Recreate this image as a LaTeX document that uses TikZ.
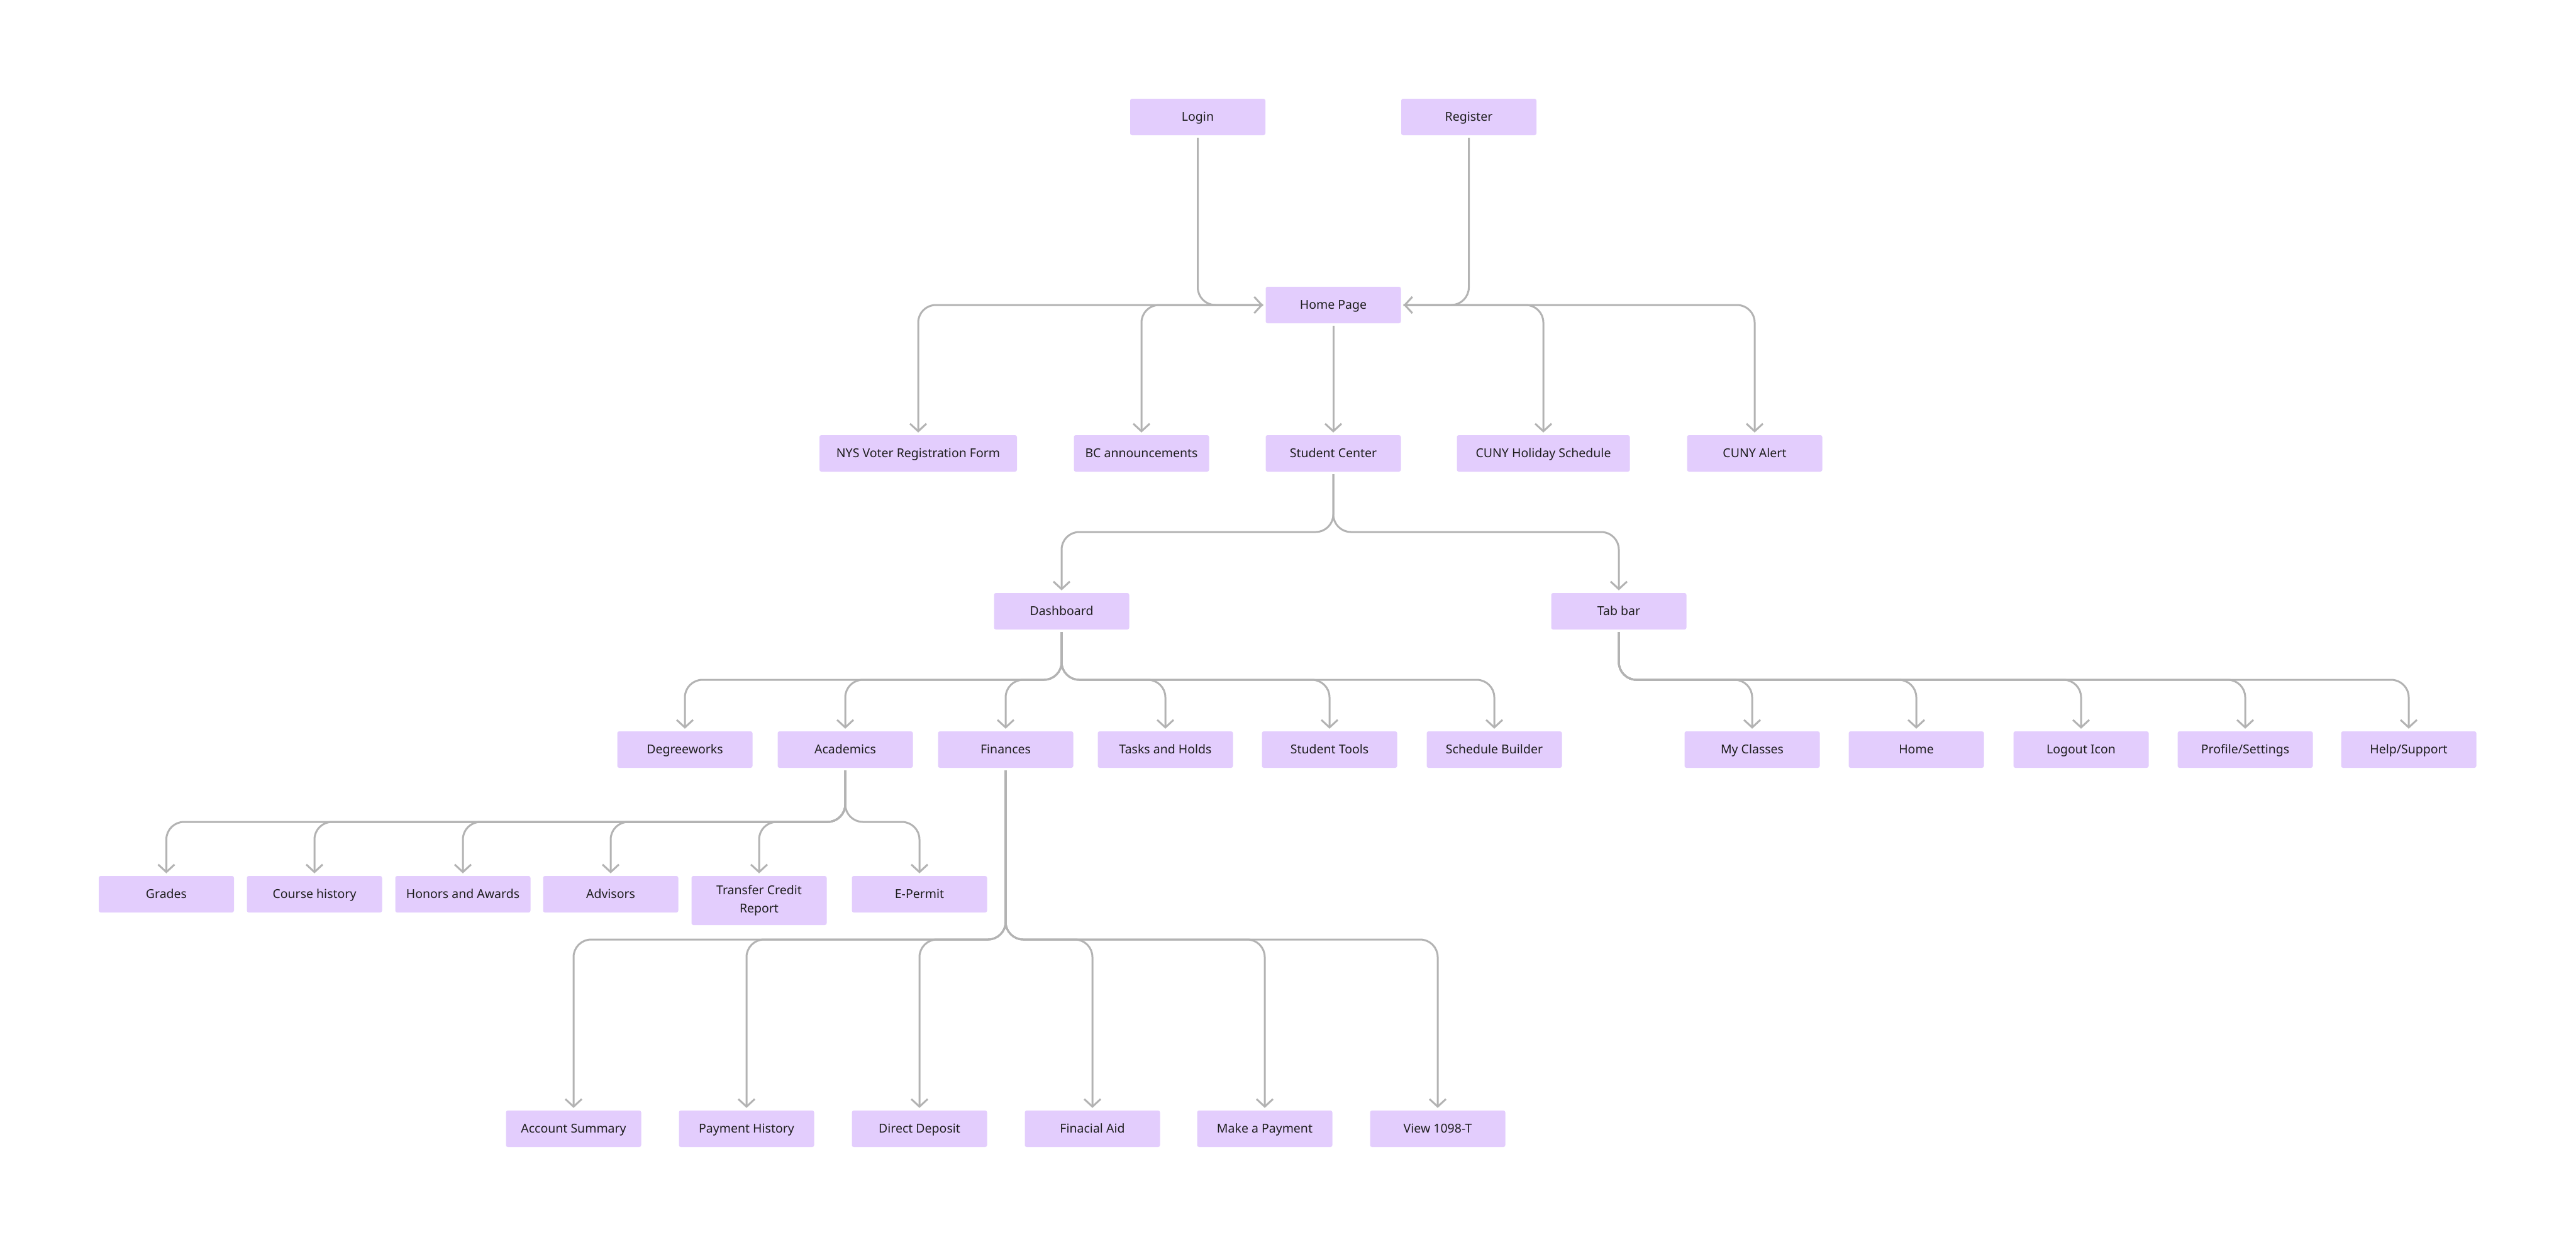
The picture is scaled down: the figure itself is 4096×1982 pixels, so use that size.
\documentclass[tikz,border=0pt]{standalone}
\usepackage{fontspec}
\setmainfont{Noto Sans}
\usetikzlibrary{arrows.meta}
\definecolor{boxfill}{HTML}{E3CDFD}
\definecolor{linegray}{HTML}{B3B3B3}
\definecolor{txt}{HTML}{1E1E1E}
\tikzset{
  basebox/.style={fill=boxfill, rounded corners=3pt, minimum width=215pt, minimum height=58pt,
    inner sep=0pt, text=txt, font=\fontsize{19.5}{29}\selectfont, align=center},
  box/.style={basebox, text height=18.9pt, text depth=5pt},
  conn/.style={draw=linegray, line width=3pt, rounded corners=28pt,
    -{Straight Barb[length=12pt,width=26pt,line width=3pt]}, shorten >=4pt, shorten <=4pt}
}
\begin{document}
\begin{tikzpicture}[x=1pt,y=-1pt]
\useasboundingbox[fill=white] (0,0) rectangle (4096,1982);
% row 0
\node[box] (login) at (1904.5,186) {Login};
\node[box] (reg) at (2335.5,186) {Register};
\node[box] (home) at (2120,485) {Home Page};
% row 2
\node[box, minimum width=314pt] (nys) at (1460,721) {NYS Voter Registration Form};
\node[box] (bc) at (1815,721) {BC announcements};
\node[box] (sc) at (2120,721) {Student Center};
\node[box, minimum width=275pt] (hol) at (2454,721) {CUNY Holiday Schedule};
\node[box] (alert) at (2790,721) {CUNY Alert};
% row 3
\node[box] (dash) at (1688,972) {Dashboard};
\node[box] (tab) at (2574,972) {Tab bar};
% row 4
\node[box] (deg) at (1089,1192) {Degreeworks};
\node[box] (acad) at (1344,1192) {Academics};
\node[box] (fin) at (1599,1192) {Finances};
\node[box] (task) at (1853,1192) {Tasks and Holds};
\node[box] (tools) at (2114,1192) {Student Tools};
\node[box] (sched) at (2376,1192) {Schedule Builder};
\node[box] (mycl) at (2786,1192) {My Classes};
\node[box] (homet) at (3047,1192) {Home};
\node[box] (logout) at (3309,1192) {Logout Icon};
\node[box] (prof) at (3570,1192) {Profile/Settings};
\node[box] (help) at (3830,1192) {Help/Support};
% row 5
\node[box] (grades) at (264.5,1422) {Grades};
\node[box] (course) at (500,1422) {Course history};
\node[box] (honors) at (736,1422) {Honors and Awards};
\node[box] (adv) at (971,1422) {Advisors};
\node[basebox, minimum height=78pt] (transfer) at (1207,1432) {Transfer Credit\\Report};
\node[box] (epermit) at (1462,1422) {E-Permit};
% row 6
\node[box] (acct) at (912,1795) {Account Summary};
\node[box] (payh) at (1187,1795) {Payment History};
\node[box] (dd) at (1462,1795) {Direct Deposit};
\node[box] (aid) at (1737,1795) {Finacial Aid};
\node[box] (mkp) at (2011,1795) {Make a Payment};
\node[box] (view) at (2286,1795) {View 1098-T};
% bus levels
\coordinate (b1) at (0,846);
\coordinate (b2) at (0,1081);
\coordinate (b3) at (0,1307);
\coordinate (b4) at (0,1494);
% connectors
\draw[conn] (login.south) |- (home.west);
\draw[conn] (reg.south) |- (home.east);
\foreach \t in {nys,bc} \draw[conn] (home.west) -| (\t.north);
\draw[conn] (home.south) -- (sc.north);
\foreach \t in {hol,alert} \draw[conn] (home.east) -| (\t.north);
\foreach \t in {dash,tab} \draw[conn] (sc.south) -- (sc.south |- b1) -| (\t.north);
\foreach \t in {deg,acad,fin,task,tools,sched} \draw[conn] (dash.south) -- (dash.south |- b2) -| (\t.north);
\foreach \t in {mycl,homet,logout,prof,help} \draw[conn] (tab.south) -- (tab.south |- b2) -| (\t.north);
\foreach \t in {grades,course,honors,adv,transfer,epermit} \draw[conn] (acad.south) -- (acad.south |- b3) -| (\t.north);
\foreach \t in {acct,payh,dd,aid,mkp,view} \draw[conn] (fin.south) -- (fin.south |- b4) -| (\t.north);
\end{tikzpicture}
\end{document}
